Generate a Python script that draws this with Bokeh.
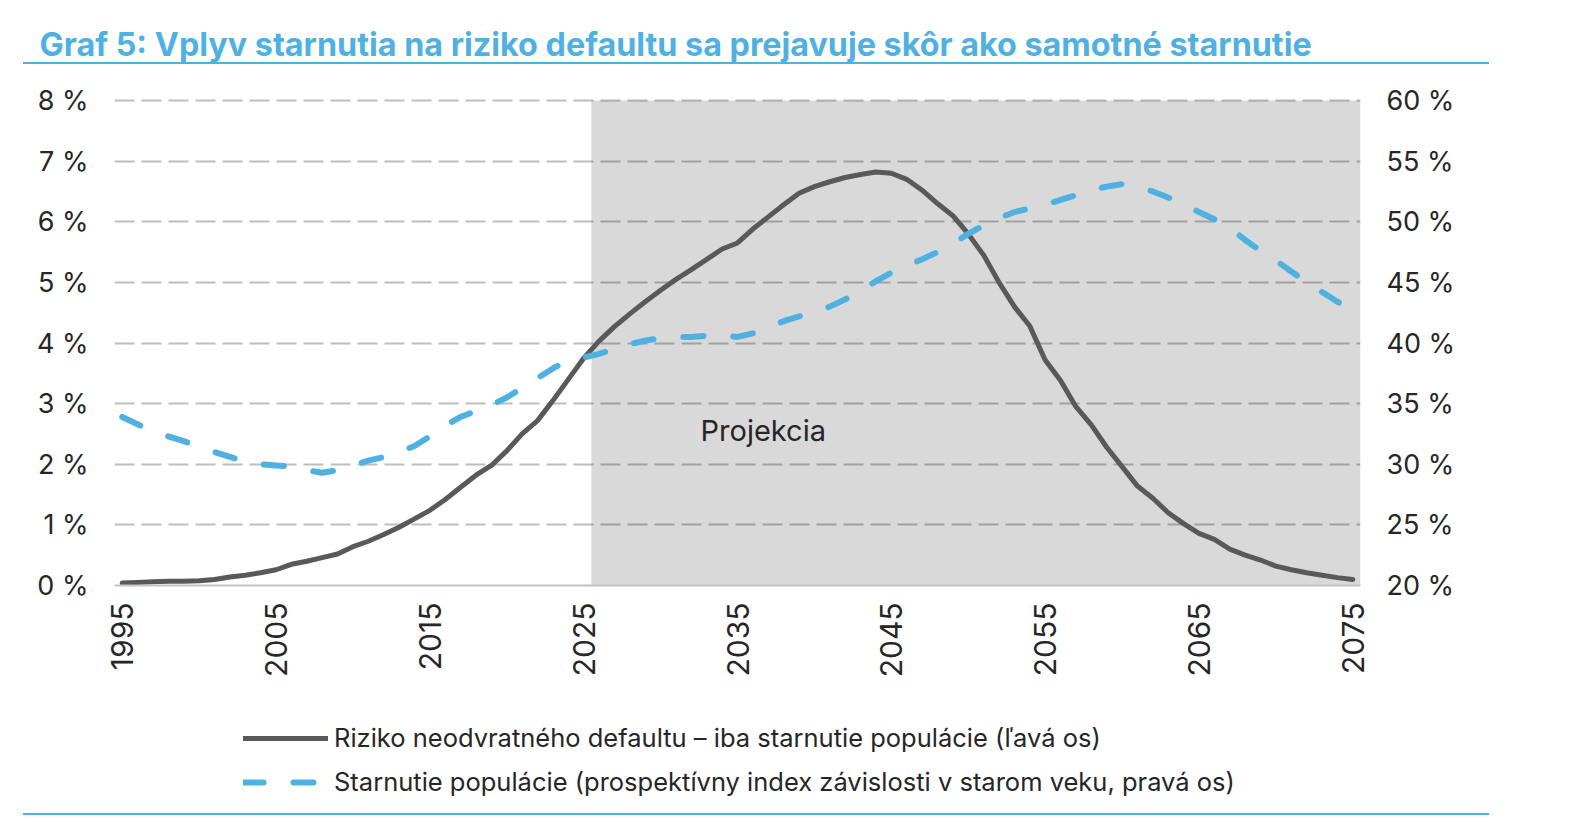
import math
from bokeh.plotting import figure
from bokeh.layouts import column
from bokeh.models import (Range1d, LinearAxis, FixedTicker, PrintfTickFormatter,
                          BoxAnnotation, Label, Legend, LegendItem, ColumnDataSource,
                          Title, InlineStyleSheet)
from bokeh.embed import file_html
from bokeh.resources import INLINE

years = list(range(1995, 2076))
risk = [0.04, 0.05, 0.06, 0.07, 0.07, 0.08, 0.10, 0.14, 0.17, 0.21,
        0.26, 0.35, 0.40, 0.46, 0.52, 0.64, 0.73, 0.84, 0.96, 1.10,
        1.24, 1.42, 1.62, 1.82, 1.98, 2.22, 2.50, 2.72, 3.05, 3.40,
        3.75, 4.03, 4.27, 4.48, 4.68, 4.87, 5.05, 5.21, 5.38, 5.55,
        5.65, 5.88, 6.08, 6.28, 6.47, 6.58, 6.66, 6.73, 6.78, 6.82,
        6.80, 6.70, 6.52, 6.30, 6.10, 5.80, 5.45, 5.00, 4.60, 4.28,
        3.72, 3.38, 2.95, 2.65, 2.28, 1.96, 1.64, 1.44, 1.20, 1.02,
        0.86, 0.76, 0.60, 0.50, 0.42, 0.32, 0.26, 0.21, 0.17, 0.13,
        0.10]
aging = [33.9, 33.3, 32.7, 32.3, 31.9, 31.5, 31.0, 30.6, 30.2, 30.0,
         29.9, 29.8, 29.5, 29.3, 29.5, 29.9, 30.3, 30.6, 31.0, 31.5,
         32.3, 33.2, 33.9, 34.4, 34.9, 35.5, 36.3, 37.1, 37.9, 38.6,
         38.8, 39.1, 39.5, 39.9, 40.2, 40.4, 40.5, 40.5, 40.6, 40.6,
         40.5, 40.8, 41.3, 41.8, 42.2, 42.6, 43.0, 43.6, 44.3, 45.1,
         45.8, 46.4, 46.9, 47.5, 48.2, 49.0, 49.7, 50.3, 50.8, 51.1,
         51.4, 51.8, 52.2, 52.6, 52.9, 53.1, 52.9, 52.5, 52.0, 51.5,
         50.8, 50.2, 49.5, 48.5, 47.6, 46.8, 45.9, 45.0, 44.2, 43.4,
         42.8]
x_ticks = [1995, 2005, 2015, 2025, 2035, 2045, 2055, 2065, 2075]
left_ticks = [0, 1, 2, 3, 4, 5, 6, 7, 8]
right_ticks = [20, 25, 30, 35, 40, 45, 50, 55, 60]
projection_start = 2025.5

title_text = "Graf 5: Vplyv starnutia na riziko defaultu sa prejavuje skôr ako samotné starnutie"
label_risk = "Riziko neodvratného defaultu – iba starnutie populácie (ľavá os)"
label_aging = "Starnutie populácie (prospektívny index závislosti v starom veku, pravá os)"

FONT = "Inter"
BLUE = "#4FB1E2"
TXT = "#262626"

rules_css = """
:host::before { content: ''; position: absolute; left: 23px; top: 62px; width: 1466px;
  height: 2px; background: #4FB1E2; z-index: 10; }
:host::after { content: ''; position: absolute; left: 23px; top: 813px; width: 1466px;
  height: 2px; background: #4FB1E2; z-index: 10; }
"""

RISK_STYLE = dict(line_color="#595959", line_width=5, line_join="round", line_cap="round")
AGING_STYLE = dict(line_color=BLUE, line_width=6, line_dash="20 30", line_cap="round",
                   line_join="round")

src = ColumnDataSource(dict(year=years, risk=risk, aging=aging))

# frame: x 114..1360, y 64..585 ; 8 % sits at y=100, 0 % at y=585
p = figure(width=1586, height=700, output_backend="svg", toolbar_location=None,
           x_range=Range1d(1994.5, 2075.5), y_range=Range1d(0, 8.594),
           min_border_left=114, min_border_right=226, min_border_top=64,
           min_border_bottom=115)
p.outline_line_color = None
p.background_fill_color = "white"
p.border_fill_color = "white"
p.extra_y_ranges = {"right": Range1d(20, 62.97)}

p.title = Title(text=title_text, align="left", offset=-75, standoff=2,
                text_font=FONT, text_font_style="bold", text_font_size="32.3px",
                text_color=BLUE)

ax_r = LinearAxis(y_range_name="right")
p.add_layout(ax_r, "right")

p.yaxis[0].ticker = FixedTicker(ticks=left_ticks)
p.yaxis[0].major_label_standoff = 20
ax_r.ticker = FixedTicker(ticks=right_ticks)
ax_r.major_label_standoff = 20
for ax in p.yaxis:
    ax.formatter = PrintfTickFormatter(format="%d %%")
    ax.axis_line_color = None
    ax.major_tick_line_color = None
    ax.minor_tick_line_color = None
    ax.major_label_text_font = FONT
    ax.major_label_text_font_size = "27px"
    ax.major_label_text_color = TXT

xa = p.xaxis[0]
xa.ticker = FixedTicker(ticks=x_ticks)
xa.major_label_orientation = math.pi / 2
xa.major_tick_line_color = None
xa.minor_tick_line_color = None
xa.axis_line_color = "#c4c4c4"
xa.axis_line_width = 2
xa.major_label_standoff = 11
xa.major_label_text_font = FONT
xa.major_label_text_font_size = "30px"
xa.major_label_text_color = TXT

p.xgrid.visible = False
p.ygrid.ticker = FixedTicker(ticks=left_ticks)
p.ygrid.grid_line_color = "black"
p.ygrid.grid_line_alpha = 0.26
p.ygrid.grid_line_width = 2
p.ygrid.grid_line_dash = "20 7"

shade = BoxAnnotation(left=projection_start, top=8, bottom=0, fill_color="#d9d9d9",
                      fill_alpha=1.0, line_color=None, level="image")
p.add_layout(shade)

p.line("year", "risk", source=src, **RISK_STYLE)
p.line("year", "aging", source=src, y_range_name="right", **AGING_STYLE)

p.add_layout(Label(x=2032.6, y=2.56, text="Projekcia", text_baseline="middle",
                   text_font=FONT, text_font_size="29px", text_color=TXT))

# legend strip (its own figure; frame is aligned with the main one by the column).
# Its renderers reuse the series, which fall outside this strip's ranges, so only
# the legend samples are drawn.
leg = figure(width=1586, height=122, output_backend="svg", toolbar_location=None,
             x_range=Range1d(0, 1), y_range=Range1d(0, 1),
             x_axis_location=None, y_axis_location=None,
             min_border_left=114, min_border_right=226, min_border_top=0,
             min_border_bottom=0)
leg.outline_line_color = None
leg.grid.visible = False
leg.background_fill_color = "white"
leg.border_fill_color = "white"
lr1 = leg.line("year", "risk", source=src, **RISK_STYLE)
lr2 = leg.line("year", "aging", source=src, **AGING_STYLE)
legend = Legend(items=[LegendItem(label=label_risk, renderers=[lr1]),
                       LegendItem(label=label_aging, renderers=[lr2])],
                location=(129, 25), orientation="vertical", padding=0, margin=0,
                spacing=13, glyph_width=85, glyph_height=24, label_height=24,
                label_standoff=6, border_line_color=None, background_fill_alpha=0,
                label_text_font=FONT, label_text_font_size="25.5px",
                label_text_color=TXT)
leg.add_layout(legend)

layout = column(p, leg, spacing=0)
layout.stylesheets = [InlineStyleSheet(css=rules_css)]
open("out.html", "w").write(file_html(layout, INLINE))
